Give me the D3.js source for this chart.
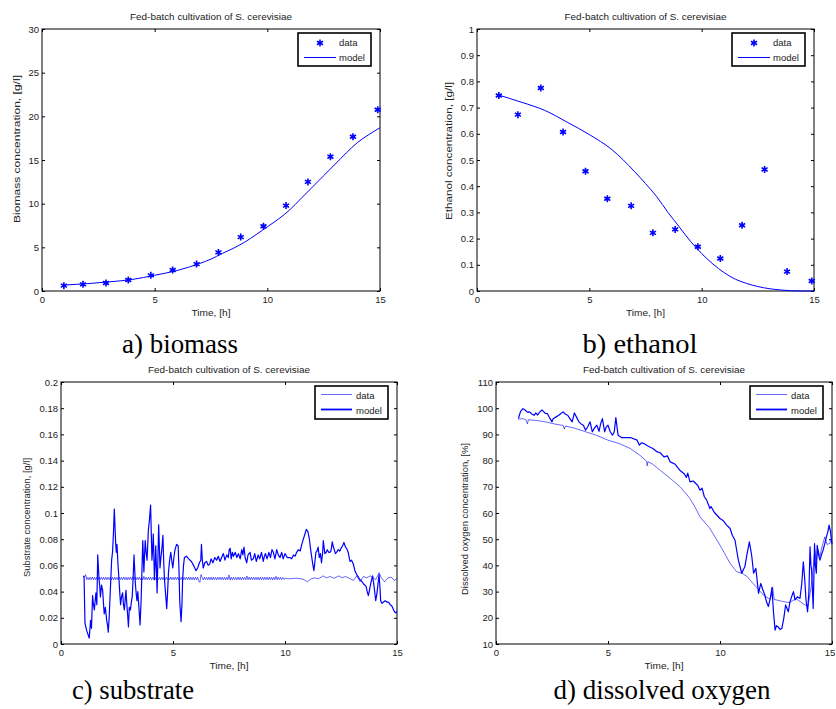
<!DOCTYPE html>
<html>
<head>
<meta charset="utf-8">
<script src="https://cdn.jsdelivr.net/npm/d3@7"></script>
<style>
	body { margin: 0; background: #fff; }
	svg text { font-family: "Liberation Sans", Arial, sans-serif; fill: #222; }
	svg text.caption { font-family: "Liberation Serif", "Times New Roman", serif; fill: #000; }
</style>
</head>
<body>
<script>
// ---- data ----
var hourTicks = [0, 5, 10, 15];
var biomassTicks = [0, 5, 10, 15, 20, 25, 30];
var ethanolTicks = [0, 0.1, 0.2, 0.3, 0.4, 0.5, 0.6, 0.7, 0.8, 0.9, 1];
var substrateTicks = [0, 0.02, 0.04, 0.06, 0.08, 0.1, 0.12, 0.14, 0.16, 0.18, 0.2];
var oxygenTicks = [10, 20, 30, 40, 50, 60, 70, 80, 90, 100, 110];

var sampleTimes = [0.97, 1.82, 2.84, 3.83, 4.83, 5.8, 6.86, 7.83, 8.82, 9.83, 10.83, 11.8, 12.8, 13.8, 14.9];
var biomassData = [0.61, 0.76, 0.91, 1.26, 1.79, 2.4, 3.08, 4.42, 6.17, 7.42, 9.78, 12.49, 15.38, 17.66, 20.75];
var ethanolData = [0.746, 0.673, 0.775, 0.607, 0.457, 0.352, 0.325, 0.222, 0.235, 0.169, 0.124, 0.251, 0.464, 0.074, 0.038];

var modelTimes = [1, 2, 3, 4, 5, 6, 7, 7.5, 8, 8.5, 9, 9.5, 10, 10.5, 11, 11.5, 12, 12.5, 13, 13.5, 14, 14.5, 15];
var biomassModel = [0.68, 0.84, 1.05, 1.32, 1.8, 2.35, 3.15, 3.65, 4.3, 4.9, 5.6, 6.45, 7.35, 8.25, 9.3, 10.6, 11.9, 13.2, 14.5, 15.8, 17.0, 17.9, 18.7];
var ethanolModel = [0.747, 0.72, 0.69, 0.645, 0.597, 0.54, 0.457, 0.41, 0.36, 0.30, 0.245, 0.19, 0.143, 0.103, 0.07, 0.045, 0.029, 0.017, 0.009, 0.004, 0.001, 0, 0];

// substrate sensor, sampled every 0.05 h from 1 h to 10 h
var substrateSampleStart = 1, substrateSampleStep = 0.05;
var substrateDense = [
	0.0520,0.0510,0.0530,0.0491,0.0509,0.0490,0.0510,0.0491,0.0511,0.0490,
	0.0509,0.0491,0.0510,0.0489,0.0509,0.0492,0.0511,0.0490,0.0510,0.0491,
	0.0510,0.0490,0.0509,0.0491,0.0511,0.0490,0.0510,0.0489,0.0510,0.0491,
	0.0509,0.0490,0.0510,0.0492,0.0510,0.0490,0.0511,0.0491,0.0509,0.0489,
	0.0510,0.0491,0.0510,0.0490,0.0513,0.0490,0.0510,0.0491,0.0509,0.0490,
	0.0510,0.0490,0.0511,0.0489,0.0516,0.0491,0.0509,0.0490,0.0510,0.0491,
	0.0510,0.0489,0.0510,0.0491,0.0509,0.0490,0.0511,0.0491,0.0510,0.0490,
	0.0510,0.0491,0.0509,0.0489,0.0510,0.0492,0.0510,0.0490,0.0511,0.0491,
	0.0509,0.0490,0.0510,0.0491,0.0510,0.0489,0.0510,0.0492,0.0509,0.0490,
	0.0510,0.0490,0.0510,0.0491,0.0511,0.0490,0.0509,0.0491,0.0510,0.0489,
	0.0510,0.0491,0.0510,0.0480,0.0470,0.0530,0.0510,0.0490,0.0510,0.0491,
	0.0509,0.0490,0.0510,0.0491,0.0510,0.0489,0.0511,0.0491,0.0509,0.0490,
	0.0510,0.0492,0.0510,0.0490,0.0510,0.0491,0.0509,0.0489,0.0511,0.0491,
	0.0527,0.0488,0.0510,0.0490,0.0510,0.0491,0.0509,0.0490,0.0510,0.0490,
	0.0510,0.0489,0.0510,0.0492,0.0509,0.0490,0.0519,0.0491,0.0510,0.0490,
	0.0510,0.0491,0.0509,0.0490,0.0510,0.0491,0.0510,0.0489,0.0510,0.0491,
	0.0509,0.0490,0.0510,0.0492,0.0510,0.0490,0.0511,0.0491,0.0509,0.0489,
	0.0510,0.0491,0.0516,0.0490,0.0510,0.0492,0.0509,0.0491,0.0508,0.0493,
	0.0500
];
var substrateLate = [
	[10.2,0.0498],[10.5,0.0502],[10.8,0.0495],[11.0,0.0475],[11.15,0.0495],[11.3,0.0505],[11.5,0.0498],
	[11.7,0.052],[11.85,0.0505],[12.0,0.0515],[12.2,0.0502],[12.4,0.052],[12.55,0.0505],[12.7,0.0515],
	[12.9,0.050],[13.05,0.0485],[13.2,0.052],[13.35,0.0475],[13.5,0.0515],[13.65,0.0505],[13.8,0.052],
	[13.95,0.0505],[14.05,0.049],[14.2,0.0545],[14.3,0.0505],[14.45,0.0475],[14.6,0.0505],[14.75,0.051],
	[14.88,0.0485],[15.0,0.050]
];

var substrateModel = [
	[1.0,0.052],[1.03,0.051],[1.07,0.016],[1.15,0.010],[1.26,0.0045],[1.32,0.018],[1.36,0.012],[1.41,0.037],
	[1.45,0.030],[1.49,0.026],[1.53,0.034],[1.56,0.039],[1.6,0.030],[1.64,0.068],[1.67,0.058],[1.70,0.049],
	[1.73,0.044],[1.76,0.036],[1.81,0.045],[1.86,0.041],[1.9,0.030],[1.93,0.023],[1.98,0.028],[2.04,0.018],
	[2.08,0.014],[2.11,0.009],[2.15,0.020],[2.19,0.036],[2.23,0.052],[2.26,0.064],[2.3,0.070],[2.34,0.084],
	[2.38,0.103],[2.41,0.090],[2.44,0.077],[2.47,0.070],[2.5,0.076],[2.54,0.062],[2.59,0.049],[2.62,0.040],
	[2.66,0.030],[2.7,0.036],[2.75,0.039],[2.79,0.030],[2.83,0.026],[2.87,0.035],[2.9,0.041],[2.94,0.030],
	[2.98,0.021],[3.01,0.013],[3.05,0.028],[3.1,0.026],[3.14,0.032],[3.18,0.036],[3.22,0.050],[3.26,0.068],
	[3.29,0.057],[3.32,0.046],[3.36,0.038],[3.39,0.033],[3.43,0.040],[3.47,0.030],[3.53,0.0145],[3.58,0.035],
	[3.62,0.060],[3.65,0.079],[3.68,0.065],[3.7,0.055],[3.73,0.068],[3.76,0.079],[3.8,0.070],[3.84,0.064],
	[3.87,0.075],[3.9,0.087],[3.95,0.095],[4.0,0.106],[4.03,0.085],[4.06,0.064],[4.09,0.072],[4.12,0.084],
	[4.15,0.065],[4.17,0.049],[4.2,0.060],[4.23,0.075],[4.26,0.058],[4.29,0.039],[4.32,0.060],[4.36,0.091],
	[4.39,0.075],[4.42,0.058],[4.46,0.066],[4.5,0.072],[4.55,0.083],[4.58,0.065],[4.62,0.049],[4.67,0.038],
	[4.72,0.027],[4.76,0.040],[4.8,0.055],[4.85,0.064],[4.9,0.070],[4.95,0.063],[4.99,0.058],[5.04,0.066],
	[5.09,0.072],[5.16,0.076],[5.23,0.075],[5.27,0.055],[5.3,0.033],[5.36,0.017],[5.4,0.030],[5.43,0.049],
	[5.47,0.060],[5.51,0.066],[5.6,0.067],[5.7,0.065],[5.82,0.063],[5.92,0.060],[6.03,0.056],[6.1,0.058],
	[6.18,0.062],[6.24,0.064],[6.27,0.076],[6.31,0.064],[6.35,0.058],[6.42,0.062],[6.5,0.063],[6.57,0.060],
	[6.64,0.061],[6.7,0.065],[6.78,0.062],[6.87,0.066],[6.95,0.064],[7.02,0.067],[7.1,0.063],[7.17,0.066],
	[7.25,0.069],[7.32,0.064],[7.4,0.068],[7.47,0.066],[7.51,0.072],[7.55,0.073],[7.6,0.065],[7.65,0.070],
	[7.7,0.067],[7.78,0.070],[7.85,0.066],[7.92,0.069],[8.0,0.065],[8.07,0.072],[8.12,0.068],[8.17,0.074],
	[8.22,0.066],[8.29,0.062],[8.35,0.068],[8.44,0.070],[8.5,0.064],[8.58,0.065],[8.65,0.069],[8.72,0.063],
	[8.8,0.068],[8.87,0.065],[8.95,0.070],[9.03,0.063],[9.08,0.067],[9.13,0.069],[9.2,0.065],[9.28,0.070],
	[9.35,0.066],[9.42,0.072],[9.48,0.070],[9.55,0.065],[9.63,0.072],[9.7,0.068],[9.78,0.066],[9.85,0.070],
	[9.92,0.065],[10.0,0.069],[10.1,0.066],[10.22,0.066],[10.3,0.065],[10.38,0.068],[10.45,0.067],[10.52,0.070],
	[10.6,0.072],[10.68,0.071],[10.75,0.076],[10.82,0.080],[10.89,0.084],[10.95,0.0875],[11.02,0.086],[11.09,0.080],
	[11.13,0.074],[11.17,0.069],[11.23,0.062],[11.29,0.056],[11.33,0.062],[11.38,0.070],[11.43,0.071],[11.48,0.074],
	[11.53,0.066],[11.58,0.069],[11.63,0.062],[11.68,0.070],[11.71,0.079],[11.75,0.073],[11.78,0.069],[11.84,0.070],
	[11.89,0.072],[11.95,0.070],[12.0,0.070],[12.05,0.071],[12.11,0.078],[12.16,0.074],[12.2,0.072],[12.25,0.069],
	[12.3,0.070],[12.38,0.072],[12.45,0.071],[12.5,0.073],[12.57,0.075],[12.63,0.0775],[12.7,0.074],[12.75,0.073],
	[12.82,0.070],[12.9,0.063],[12.97,0.064],[13.05,0.061],[13.12,0.056],[13.2,0.053],[13.28,0.051],[13.35,0.049],
	[13.42,0.048],[13.5,0.046],[13.56,0.045],[13.62,0.044],[13.67,0.040],[13.72,0.037],[13.76,0.040],[13.79,0.043],
	[13.85,0.048],[13.91,0.052],[13.95,0.047],[13.99,0.042],[14.05,0.033],[14.1,0.038],[14.14,0.044],[14.2,0.053],
	[14.24,0.043],[14.27,0.033],[14.33,0.031],[14.4,0.032],[14.47,0.033],[14.55,0.032],[14.62,0.032],[14.7,0.030],
	[14.77,0.029],[14.85,0.026],[14.91,0.024],[14.96,0.024],[15.0,0.025]
];

var oxygenData = [
	[1.0,95.8],[1.2,96.0],[1.35,95.5],[1.4,94.0],[1.45,95.6],[1.7,95.4],[2.0,95.1],[2.3,94.6],[2.6,94.0],
	[3.0,93.4],[3.05,92.0],[3.1,93.2],[3.5,92.4],[4.0,91.0],[4.5,89.6],[5.0,87.8],[5.5,86.5],[6.0,84.6],
	[6.43,82.0],[6.72,79.8],[6.75,78.0],[6.78,79.6],[7.0,78.6],[7.33,76.3],[7.78,73.2],[8.0,71.6],[8.22,70.0],
	[8.5,67.2],[8.66,65.5],[8.9,62.0],[9.11,58.5],[9.55,54.1],[10.0,47.7],[10.45,40.8],[10.74,37.6],[11.0,36.9],
	[11.2,35.8],[11.48,33.1],[11.7,31.0],[11.93,28.7],[12.1,27.8],[12.25,27.0],[12.35,31.8],[12.42,27.0],
	[12.52,26.8],[12.82,26.2],[13.1,25.8],[13.4,27.3],[13.7,25.4],[13.93,24.3],[14.07,32.0],[14.15,38.0],
	[14.23,45.8],[14.3,42.0],[14.38,46.0],[14.46,43.4],[14.55,47.0],[14.68,50.9],[14.78,48.0],[14.9,48.4],[15.0,50.9]
];

var oxygenModel = [
	[1.0,96.0],[1.05,97.5],[1.1,98.8],[1.2,99.8],[1.3,99.3],[1.4,98.5],[1.5,98.6],[1.6,97.8],[1.7,97.3],
	[1.78,98.2],[1.85,97.4],[1.95,98.5],[2.05,99.3],[2.12,98.8],[2.2,98.0],[2.3,97.9],[2.4,96.2],[2.5,94.8],
	[2.55,96.0],[2.65,96.5],[2.8,97.3],[2.9,98.0],[3.0,98.6],[3.1,97.7],[3.2,97.3],[3.3,96.0],[3.4,94.8],
	[3.5,98.2],[3.6,96.5],[3.7,94.8],[3.8,94.0],[3.9,93.5],[4.0,91.6],[4.1,93.0],[4.2,94.8],[4.3,91.0],
	[4.4,92.5],[4.5,93.5],[4.6,91.2],[4.67,94.0],[4.75,96.0],[4.85,91.0],[4.92,92.8],[5.0,93.5],[5.1,91.0],
	[5.2,89.7],[5.28,91.0],[5.35,96.4],[5.45,89.7],[5.6,88.8],[6.0,88.8],[6.3,87.8],[6.4,85.9],[6.5,86.8],
	[6.6,86.5],[6.8,85.5],[7.0,84.6],[7.2,83.3],[7.33,83.0],[7.5,81.4],[7.65,81.8],[7.78,79.5],[8.0,78.6],
	[8.22,76.2],[8.4,75.0],[8.5,73.6],[8.56,75.2],[8.66,71.9],[8.8,72.2],[9.0,70.6],[9.11,68.7],[9.2,69.5],
	[9.3,66.2],[9.4,65.0],[9.55,61.7],[9.6,62.5],[9.75,60.2],[10.0,57.9],[10.15,57.0],[10.3,55.4],[10.45,54.1],
	[10.55,51.5],[10.67,49.6],[10.75,45.5],[10.82,42.0],[10.97,37.0],[11.05,38.5],[11.11,39.5],[11.2,44.0],
	[11.31,49.0],[11.37,46.0],[11.42,43.4],[11.5,37.0],[11.6,38.9],[11.72,29.3],[11.82,33.1],[11.9,31.0],
	[12.0,28.7],[12.08,26.0],[12.16,24.3],[12.26,28.1],[12.32,31.5],[12.38,23.0],[12.46,15.3],[12.52,17.0],
	[12.6,16.5],[12.68,15.6],[12.76,15.9],[12.85,20.0],[12.93,24.9],[13.05,22.3],[13.12,26.0],[13.2,28.1],
	[13.28,30.0],[13.35,26.8],[13.45,28.0],[13.57,27.4],[13.65,33.0],[13.72,41.4],[13.78,35.0],[13.84,26.8],
	[13.91,22.3],[13.97,30.0],[14.02,47.1],[14.06,40.0],[14.09,38.2],[14.13,30.0],[14.16,23.6],[14.19,35.0],
	[14.22,48.3],[14.26,40.0],[14.3,37.0],[14.34,47.7],[14.4,44.0],[14.46,42.0],[14.53,44.0],[14.6,45.8],
	[14.67,48.0],[14.75,50.9],[14.82,53.0],[14.87,55.4],[14.93,53.0],[15.0,48.0]
];

var titleText = "Fed-batch cultivation of S. cerevisiae";
var xLabelText = "Time, [h]";

// ---- drawing ----
var blue = "#0000ff";

var svg = d3.select("body").append("svg")
	.attr("width", 836)
	.attr("height", 709);

var fmt = d3.format("~g");

var substrateData = substrateDense.map(function (v, i) {
	return [substrateSampleStart + i * substrateSampleStep, v];
}).concat(substrateLate);

function drawPanel(p) {
	var g = svg.append("g").attr("class", "panel");

	var x = d3.scaleLinear().domain([0, 15]).range([p.left, p.right]);
	var y = d3.scaleLinear().domain(p.yDomain).range([p.bottom, p.top]);

	// axes, ticks pointing inwards (matlab style)
	var bottom = g.append("g")
		.attr("transform", "translate(0," + p.bottom + ")")
		.call(d3.axisBottom(x).tickValues(hourTicks).tickFormat(fmt).tickSizeInner(-3).tickSizeOuter(0).tickPadding(5.5));
	g.append("g")
		.attr("transform", "translate(" + p.left + ",0)")
		.call(d3.axisLeft(y).tickValues(p.yTicks).tickFormat(fmt).tickSizeInner(-3).tickSizeOuter(0).tickPadding(3));
	g.append("g")
		.attr("transform", "translate(0," + p.top + ")")
		.call(d3.axisTop(x).tickValues(hourTicks).tickFormat("").tickSizeInner(-3).tickSizeOuter(0));
	g.append("g")
		.attr("transform", "translate(" + p.right + ",0)")
		.call(d3.axisRight(y).tickValues(p.yTicks).tickFormat("").tickSizeInner(-3).tickSizeOuter(0));

	g.selectAll(".domain").remove();
	g.selectAll(".tick line").attr("stroke", "#000");
	g.selectAll(".tick text")
		.attr("font-family", "'Liberation Sans', Arial, sans-serif")
		.attr("font-size", "9.5px")
		.attr("fill", "#222");

	// last hour label sits on the picture edge in panel d
	if (p.right > 820) {
		bottom.selectAll(".tick:last-child text").attr("dx", "-2.5");
	}

	g.append("rect")
		.attr("x", p.left)
		.attr("y", p.top)
		.attr("width", p.right - p.left)
		.attr("height", p.bottom - p.top)
		.attr("fill", "none")
		.attr("stroke", "#000")
		.attr("stroke-width", 1);

	// title and labels
	g.append("text")
		.attr("x", (p.left + p.right) / 2)
		.attr("y", p.top - 9)
		.attr("text-anchor", "middle")
		.attr("font-size", "8.5px")
		.attr("textLength", 162)
		.attr("lengthAdjust", "spacingAndGlyphs")
		.attr("fill", "#333")
		.text(titleText);

	g.append("text")
		.attr("x", (p.left + p.right) / 2)
		.attr("y", p.bottom + 25)
		.attr("text-anchor", "middle")
		.attr("font-size", "8.5px")
		.attr("textLength", 39)
		.attr("lengthAdjust", "spacingAndGlyphs")
		.attr("fill", "#333")
		.text(xLabelText);

	g.append("text")
		.attr("transform", "translate(" + p.yLabelX + "," + p.yLabelY + ") rotate(-90)")
		.attr("text-anchor", "middle")
		.attr("dy", "0.35em")
		.attr("font-size", "8.5px")
		.attr("textLength", p.yLabelLen)
		.attr("lengthAdjust", "spacingAndGlyphs")
		.attr("fill", "#333")
		.text(p.yLabel);

	var line = d3.line()
		.x(function (d) { return x(d[0]); })
		.y(function (d) { return y(d[1]); });

	var star = d3.symbol().type(d3.symbolAsterisk).size(34);

	if (p.kind == "points") {
		var model = modelTimes.map(function (t, i) { return [t, p.model[i]]; });
		g.append("path")
			.datum(model)
			.attr("d", line.curve(d3.curveMonotoneX))
			.attr("fill", "none")
			.attr("stroke", blue)
			.attr("stroke-width", 1);

		g.selectAll("path.marker")
			.data(sampleTimes.map(function (t, i) { return [t, p.data[i]]; }))
			.enter().append("path")
			.attr("class", "marker")
			.attr("transform", function (d) { return "translate(" + x(d[0]) + "," + y(d[1]) + ")"; })
			.attr("d", star)
			.attr("fill", "none")
			.attr("stroke", blue)
			.attr("stroke-width", 1.6);
	} else {
		// thin measured line, thicker model line on top
		g.append("path")
			.datum(p.data)
			.attr("d", line)
			.attr("fill", "none")
			.attr("stroke", blue)
			.attr("stroke-width", 0.6);
		g.append("path")
			.datum(p.model)
			.attr("d", line)
			.attr("fill", "none")
			.attr("stroke", blue)
			.attr("stroke-width", 1.2)
			.attr("stroke-linejoin", "round");
	}

	// legend
	var lx = p.right - 82, ly = p.top + 4;
	var leg = g.append("g").attr("transform", "translate(" + lx + "," + ly + ")");
	leg.append("rect")
		.attr("width", 73)
		.attr("height", 33)
		.attr("fill", "#fff")
		.attr("stroke", "#000")
		.attr("stroke-width", 1.6);
	if (p.kind == "points") {
		leg.append("path")
			.attr("transform", "translate(22,10)")
			.attr("d", star)
			.attr("fill", "none")
			.attr("stroke", blue)
			.attr("stroke-width", 1.6);
		leg.append("line")
			.attr("x1", 6).attr("x2", 38).attr("y1", 24.5).attr("y2", 24.5)
			.attr("stroke", blue).attr("stroke-width", 1);
	} else {
		leg.append("line")
			.attr("x1", 6).attr("x2", 37).attr("y1", 8.5).attr("y2", 8.5)
			.attr("stroke", blue).attr("stroke-width", 0.6);
		leg.append("line")
			.attr("x1", 6).attr("x2", 37).attr("y1", 23.5).attr("y2", 23.5)
			.attr("stroke", blue).attr("stroke-width", 1.8);
	}
	leg.append("text").attr("x", 41).attr("y", 10).attr("dy", "0.35em")
		.attr("font-size", "9.5px").text("data");
	leg.append("text").attr("x", 41).attr("y", 24.5).attr("dy", "0.35em")
		.attr("font-size", "9.5px").text("model");

	// caption under the panel
	svg.append("text")
		.attr("class", "caption")
		.attr("x", p.capX)
		.attr("y", p.capY)
		.attr("text-anchor", "middle")
		.attr("font-size", "27px")
		.attr("textLength", p.capLen)
		.attr("lengthAdjust", "spacingAndGlyphs")
		.text(p.caption);
}

drawPanel({
	kind: "points", data: biomassData, model: biomassModel,
	left: 42, right: 380, top: 29, bottom: 291,
	yDomain: [0, 30], yTicks: biomassTicks,
	yLabel: "Biomass concentration, [g/l]", yLabelX: 16.7, yLabelY: 149, yLabelLen: 148,
	caption: "a) biomass", capX: 180, capY: 353, capLen: 116
});
drawPanel({
	kind: "points", data: ethanolData, model: ethanolModel,
	left: 477, right: 814, top: 29, bottom: 291,
	yDomain: [0, 1], yTicks: ethanolTicks,
	yLabel: "Ethanol concentration, [g/l]", yLabelX: 448.7, yLabelY: 151, yLabelLen: 138,
	caption: "b) ethanol", capX: 640, capY: 353, capLen: 115
});
drawPanel({
	kind: "lines", data: substrateData, model: substrateModel,
	left: 61, right: 397, top: 382, bottom: 644,
	yDomain: [0, 0.2], yTicks: substrateTicks,
	yLabel: "Substrate concentration, [g/l]", yLabelX: 27.2, yLabelY: 517.5, yLabelLen: 119,
	caption: "c) substrate", capX: 133, capY: 699, capLen: 122
});
drawPanel({
	kind: "lines", data: oxygenData, model: oxygenModel,
	left: 496, right: 832, top: 382, bottom: 644,
	yDomain: [10, 110], yTicks: oxygenTicks,
	yLabel: "Dissolved oxygen concentration, [%]", yLabelX: 465, yLabelY: 519, yLabelLen: 152,
	caption: "d) dissolved oxygen", capX: 662, capY: 699, capLen: 217
});
</script>
</body>
</html>
